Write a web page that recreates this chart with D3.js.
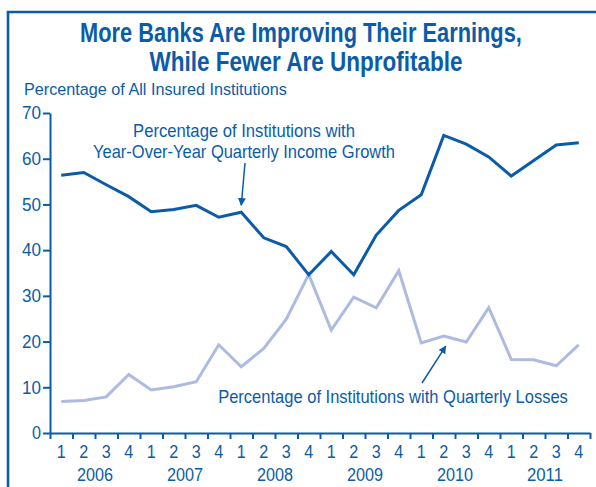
<!DOCTYPE html>
<html lang="en">
<head>
  <meta charset="UTF-8">
  <script src="https://d3js.org/d3.v7.min.js"></script>
  <style>
    body { margin: 0; background: #fff; }
    svg { display: block; }
    text { font-family: "Liberation Sans Narrow", "Arial Narrow", "Liberation Sans", sans-serif; }
  </style>
</head>
<body>
  <script>
    const width = 596;
    const height = 487;
    const blue = "#0b5ca8";
    const lightBlue = "#aebbe0";

    // data, one value per quarter 2006 Q1 .. 2011 Q4
    const years = ["2006", "2007", "2008", "2009", "2010", "2011"];
    const quarterLabels = ["1", "2", "3", "4"];
    const incomeGrowth = [56.4, 57.0, 54.3, 51.7, 48.4, 48.9, 49.8, 47.2, 48.3, 42.7, 40.8, 34.6,
                          39.7, 34.6, 43.3, 48.7, 52.1, 65.1, 63.2, 60.4, 56.2, 59.6, 63.0, 63.5];
    const quarterlyLosses = [6.9, 7.1, 7.9, 12.8, 9.4, 10.1, 11.2, 19.3, 14.5, 18.5, 24.9, 34.7,
                             22.5, 29.7, 27.4, 35.5, 19.7, 21.2, 19.9, 27.4, 16.1, 16.0, 14.7, 19.3];
    const yTicks = [0, 10, 20, 30, 40, 50, 60, 70];

    const quarters = d3.range(years.length * 4);

    const svg = d3.select("body")
      .append("svg")
      .attr("width", width)
      .attr("height", height);

    // narrow text: squeeze horizontally to the width seen in the original
    function label(x, y, str, size, len, anchor = "middle", bold = false) {
      const g = svg.append("g").attr("transform", `translate(${x},${y})`);
      const t = g.append("text")
        .attr("text-anchor", anchor)
        .attr("fill", blue)
        .attr("font-size", size)
        .attr("font-weight", bold ? "bold" : null)
        .text(str);
      const sx = len / t.node().getComputedTextLength();
      t.attr("transform", `scale(${sx},1)`);
      return g;
    }

    // frame
    svg.append("path")
      .attr("d", `M8,${height} V12 H${width}`)
      .attr("fill", "none")
      .attr("stroke", blue)
      .attr("stroke-width", 2.6);

    // titles
    label(301, 42, "More Banks Are Improving Their Earnings,", 28, 442, "middle", true);
    label(306, 71, "While Fewer Are Unprofitable", 28, 313, "middle", true);
    label(24, 95, "Percentage of All Insured Institutions", 17, 263, "start");

    const x = d3.scaleBand().domain(quarters).range([50, 590]);
    const xEdge = d3.scaleLinear().domain([0, quarters.length]).range([50, 590]);
    const y = d3.scaleLinear().domain([0, 70]).range([433, 113]);

    // y axis
    const yAxis = svg.append("g")
      .attr("transform", "translate(50,0)")
      .call(d3.axisLeft(y).tickValues(yTicks).tickSize(7).tickPadding(2).tickSizeOuter(0));
    yAxis.select(".domain").attr("stroke", blue).attr("stroke-width", 2);
    yAxis.selectAll(".tick line").attr("stroke", blue).attr("stroke-width", 2);
    yAxis.selectAll(".tick text")
      .attr("fill", blue)
      .attr("font-size", 18)
      .attr("font-family", null)
      .attr("textLength", d => d === 0 ? 9 : 19)
      .attr("lengthAdjust", "spacingAndGlyphs");

    // x axis (ticks on quarter boundaries)
    const xAxis = svg.append("g")
      .attr("transform", "translate(0,433)")
      .call(d3.axisBottom(xEdge).tickValues(d3.range(quarters.length + 1)).tickSize(6).tickFormat("").tickSizeOuter(0));
    xAxis.select(".domain").attr("stroke", blue).attr("stroke-width", 2);
    xAxis.selectAll(".tick line").attr("stroke", blue).attr("stroke-width", 2);

    svg.append("g").selectAll("text")
      .data(quarters)
      .join("text")
      .attr("x", d => x(d) + x.bandwidth() / 2)
      .attr("y", 458)
      .attr("text-anchor", "middle")
      .attr("fill", blue)
      .attr("font-size", 18)
      .attr("textLength", 9)
      .attr("lengthAdjust", "spacingAndGlyphs")
      .text(d => quarterLabels[d % 4]);

    svg.append("g").selectAll("text")
      .data(years)
      .join("text")
      .attr("x", (d, i) => xEdge(i * 4 + 2))
      .attr("y", 481)
      .attr("text-anchor", "middle")
      .attr("fill", blue)
      .attr("font-size", 18)
      .attr("textLength", 36)
      .attr("lengthAdjust", "spacingAndGlyphs")
      .text(d => d);

    // lines
    const line = d3.line()
      .x((d, i) => x(i) + x.bandwidth() / 2)
      .y(d => y(d));

    svg.append("path")
      .datum(quarterlyLosses)
      .attr("d", line)
      .attr("fill", "none")
      .attr("stroke", lightBlue)
      .attr("stroke-width", 3)
      .attr("stroke-linejoin", "miter");

    svg.append("path")
      .datum(incomeGrowth)
      .attr("d", line)
      .attr("fill", "none")
      .attr("stroke", blue)
      .attr("stroke-width", 3)
      .attr("stroke-linejoin", "miter");

    // annotations
    svg.append("defs").append("marker")
      .attr("id", "arrow")
      .attr("viewBox", "0 0 10 10")
      .attr("refX", 9).attr("refY", 5)
      .attr("markerWidth", 8).attr("markerHeight", 8)
      .attr("markerUnits", "userSpaceOnUse")
      .attr("orient", "auto")
      .append("path")
      .attr("d", "M0,0 L10,5 L0,10 Z")
      .attr("fill", blue);

    label(244, 137, "Percentage of Institutions with", 18, 222);
    label(244, 158, "Year-Over-Year Quarterly Income Growth", 18, 302);

    svg.append("line")
      .attr("x1", 245).attr("y1", 163)
      .attr("x2", x(8) + x.bandwidth() / 2).attr("y2", y(incomeGrowth[8]) - 7)
      .attr("stroke", blue).attr("stroke-width", 1.5)
      .attr("marker-end", "url(#arrow)");

    label(393, 403, "Percentage of Institutions with Quarterly Losses", 18, 350);

    svg.append("line")
      .attr("x1", 422).attr("y1", 383)
      .attr("x2", x(17) + x.bandwidth() / 2 + 2).attr("y2", y(quarterlyLosses[17]) + 10)
      .attr("stroke", blue).attr("stroke-width", 1.5)
      .attr("marker-end", "url(#arrow)");
  </script>
</body>
</html>
